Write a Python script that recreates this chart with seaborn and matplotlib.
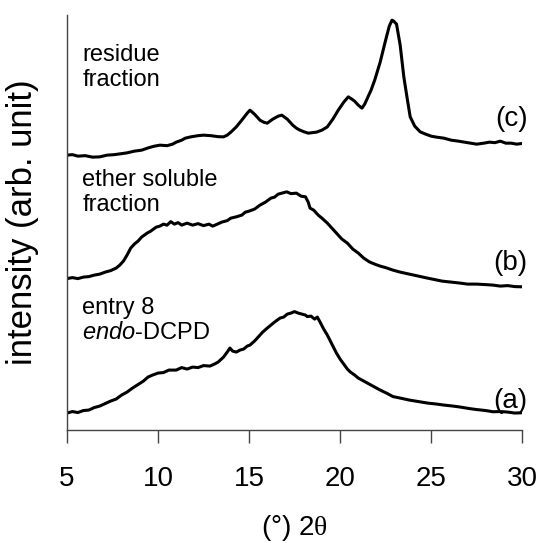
import matplotlib
matplotlib.use("Agg")
import matplotlib.pyplot as plt
import seaborn as sns
import pandas as pd

# ---- data (intensity in arbitrary units, already vertically offset) ----
theta_a = [5.0, 5.3, 5.6, 5.9, 6.2, 6.5, 6.8, 7.1, 7.4, 7.7, 8.0, 8.3, 8.6, 8.9, 9.2, 9.45,
           9.7, 10.0, 10.3, 10.6, 11.0, 11.3, 11.6, 11.9, 12.2, 12.5, 12.85, 13.1, 13.3,
           13.6, 13.8, 13.95, 14.1, 14.3, 14.5, 14.7, 14.9, 15.05, 15.3, 15.5, 15.75,
           16.0, 16.2, 16.4, 16.7, 16.9, 17.1, 17.3, 17.5, 17.7, 17.9, 18.1, 18.2, 18.4,
           18.6, 18.75, 18.9, 19.1, 19.3, 19.55, 19.8, 20.0, 20.2, 20.4, 20.55, 20.8,
           21.0, 21.3, 21.5, 21.9, 22.2, 22.6, 22.9, 23.3, 23.8, 24.3, 24.8, 25.3, 25.7,
           26.2, 26.6, 27.1, 27.5, 28.0, 28.4, 28.8, 29.2, 29.6, 30.0]
int_a = [17, 18.5, 17.5, 19.5, 20, 22.5, 24, 26.5, 29, 31, 35, 38, 42, 45.5, 49, 53,
         55, 57, 57.5, 60, 60, 62.5, 61, 63, 62.5, 64.5, 64, 66, 68,
         73, 78, 82, 79, 78, 80, 81, 84, 85, 89, 93, 98,
         102, 105, 108, 112, 113, 116, 117, 118.5, 117, 116, 115, 113.5, 114,
         111, 113, 108, 101, 95, 86, 77, 71, 66, 61, 58.3, 55,
         52, 49, 47, 43, 40, 36.5, 33.5, 32, 30, 28.5, 27, 26, 25,
         24, 23, 21.5, 20.5, 19.5, 18.3, 18.5, 18, 17, 17.3]

theta_b = [5.0, 5.3, 5.6, 5.9, 6.2, 6.5, 6.8, 7.1, 7.4, 7.7, 7.9, 8.1, 8.3, 8.5, 8.7,
           8.9, 9.1, 9.4, 9.6, 9.9, 10.1, 10.3, 10.5, 10.7, 10.9, 11.1, 11.3, 11.6,
           11.9, 12.2, 12.5, 12.8, 13.0, 13.2, 13.5, 13.8, 14.0, 14.3, 14.6, 14.8,
           15.0, 15.3, 15.6, 15.9, 16.2, 16.4, 16.6, 16.8, 17.07, 17.3, 17.6, 17.85,
           18.1, 18.25, 18.35, 18.55, 18.8, 19.0, 19.3, 19.6, 19.8, 20.1, 20.4, 20.7,
           21.0, 21.3, 21.6, 21.9, 22.2, 22.5, 22.9, 23.3, 23.8, 24.3, 24.8, 25.2,
           25.6, 26.1, 26.6, 27.0, 27.5, 28.0, 28.4, 28.8, 29.2, 29.6, 30.0]
int_b = [151.5, 152.5, 151.5, 153, 153.5, 155, 156, 158, 159.5, 162, 165, 169, 175, 182, 186,
         189, 193, 197, 199, 203, 204, 206, 205, 208.5, 206, 207.5, 205, 207,
         205, 206.5, 204.5, 206, 204, 205.5, 208, 209.5, 212, 213.3, 215, 218,
         219, 221, 225, 228, 232, 233, 236, 237, 238.3, 236.5, 237, 234,
         233.3, 228, 222, 220, 215, 212, 207, 201, 197, 191, 187, 181,
         177, 172, 168.3, 166, 164, 162.5, 160, 158, 156, 154, 152, 150.5,
         149, 148, 147, 146, 146, 145.5, 145, 144, 144.5, 143.5, 143.3]

theta_c = [5.0, 5.3, 5.6, 6.0, 6.4, 6.8, 7.2, 7.6, 8.0, 8.3, 8.7, 9.1, 9.5, 9.8, 10.1,
           10.5, 10.8, 11.0, 11.3, 11.5, 11.8, 12.2, 12.5, 12.9, 13.3, 13.6, 13.8, 14.0,
           14.3, 14.6, 14.9, 15.05, 15.3, 15.6, 15.8, 16.0, 16.3, 16.6, 16.8, 17.1,
           17.4, 17.6, 17.8, 18.0, 18.25, 18.7, 19.0, 19.3, 19.6, 19.9, 20.2, 20.45,
           20.65, 20.8, 21.0, 21.2, 21.35, 21.5, 21.7, 21.9, 22.2, 22.5, 22.7, 22.85,
           22.95, 23.1, 23.3, 23.5, 23.7, 23.85, 24.1, 24.4, 24.7, 25.0, 25.3, 25.7,
           26.1, 26.5, 27.0, 27.5, 27.9, 28.2, 28.5, 28.8, 29.1, 29.4, 29.7, 30.0]
int_c = [275, 275.5, 274, 274.5, 273, 273.3, 275, 275.5, 276.5, 277.3, 279, 280, 282.5, 284, 285,
         284.5, 286, 288, 290, 292, 293.3, 294.5, 295, 294.5, 293.5, 293.3, 295, 298,
         303.3, 310, 317, 320, 316, 310, 308, 307, 311, 314, 315, 311,
         305, 302, 300, 298.5, 297, 298, 300, 303.3, 311, 320, 328, 333.3,
         331, 329, 325, 322, 326, 332, 340, 350, 368, 390, 404, 410,
         409, 406, 385, 353.3, 330, 313.3, 304, 298.3, 296, 294, 293, 292,
         290, 289, 287.5, 286, 287, 288, 287.5, 289, 287, 287, 286, 286.7]

series_names = ["(a)", "(b)", "(c)"]
sample_labels = ["entry 8\n$\\mathit{endo}$-DCPD", "ether soluble\nfraction", "residue\nfraction"]
x_ticks = [5, 10, 15, 20, 25, 30]

# ---- build long-form table ----
frames = []
for name, xs, ys in zip(series_names, [theta_a, theta_b, theta_c], [int_a, int_b, int_c]):
    frames.append(pd.DataFrame({"theta": xs, "intensity": ys, "series": name}))
df = pd.concat(frames, ignore_index=True)

sns.set_theme(style="white")
plt.rcParams["font.family"] = ["Liberation Sans", "DejaVu Sans"]
plt.rcParams["mathtext.fontset"] = "custom"
plt.rcParams["mathtext.rm"] = "Liberation Sans"
plt.rcParams["mathtext.it"] = "Liberation Sans:italic"
plt.rcParams["mathtext.sf"] = "Liberation Serif"
plt.rcParams["text.color"] = "black"
plt.rcParams["axes.labelcolor"] = "black"
plt.rcParams["xtick.color"] = "black"

fig = plt.figure(figsize=(5.40, 5.43), dpi=100)
ax = fig.add_axes([0.124, 0.208, 0.843, 0.764])

sns.lineplot(data=df, x="theta", y="intensity", hue="series",
             palette=["black", "black", "black"], linewidth=2.2,
             legend=False, ax=ax, sort=False, estimator=None)

ax.set_xlim(5, 30)
ax.set_ylim(0, 415)
ax.set_xticks(x_ticks)
ax.set_xticklabels([str(t) for t in x_ticks], fontsize=20)
ax.set_yticks([])
ax.tick_params(axis="x", direction="out", length=9, width=1, color="#444444", pad=17,
               bottom=True, labelcolor="black")

for side in ["top", "right"]:
    ax.spines[side].set_visible(False)
for side in ["left", "bottom"]:
    ax.spines[side].set_color("#444444")
    ax.spines[side].set_linewidth(1.0)

ax.set_xlabel("(°) 2$\\mathsf{\\theta}$", fontsize=20, labelpad=15)
ax.set_ylabel("intensity (arb. unit)", fontsize=25)
ax.yaxis.set_label_coords(-0.062, 0.5)

# sample labels (left) and series letters (right)
label_y = [133, 261, 386]
letter_y = [29, 167, 311]
for txt, ly in zip(sample_labels, label_y):
    ax.text(5.85, ly, txt, fontsize=17, va="top", ha="left", linespacing=1.15)
for name, ly in zip(series_names, letter_y):
    ax.text(30.3, ly, name, fontsize=20, va="center", ha="right", clip_on=False)

fig.savefig("out.png", dpi=100)
